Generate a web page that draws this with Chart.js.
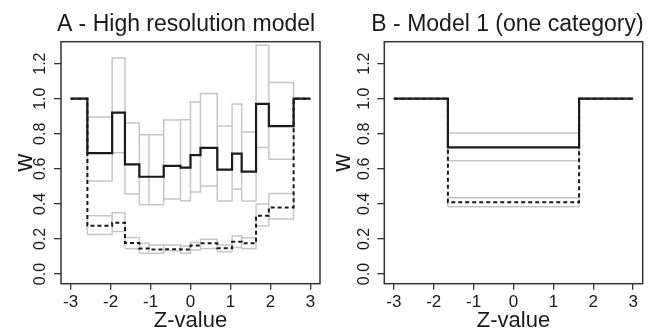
<!DOCTYPE html>
<html>
<head>
<meta charset="utf-8">
<script src="https://cdn.jsdelivr.net/npm/chart.js@4/dist/chart.umd.min.js"></script>
<style>
body { margin: 0; background: #fff; }
.panel { position: absolute; top: 0; height: 335px; }
</style>
</head>
<body>
<div class="panel" style="left:0;width:327px"><canvas id="chartA"></canvas></div>
<div class="panel" style="left:327px;width:328px"><canvas id="chartB"></canvas></div>
<script>
// Panel A - bin edges on the Z scale and weights per bin
const edgesA = [-3, -2.58, -1.96, -1.64, -1.28, -1.04, -0.67, -0.25, 0, 0.25, 0.67, 1.04, 1.28, 1.64, 1.96, 2.58, 3];
const solidA   = [1.0, 0.69, 0.92, 0.625, 0.555, 0.555, 0.617, 0.607, 0.678, 0.72, 0.596, 0.687, 0.584, 0.97, 0.843, 1.0];
const solidHiA = [null, 0.895, 1.232, 0.861, 0.795, 0.795, 0.878, 0.88, 0.981, 1.03, 0.844, 0.97, 0.81, 1.305, 1.093, null];
const solidLoA = [null, 0.53, 0.692, 0.456, 0.395, 0.395, 0.428, 0.418, 0.468, 0.502, 0.416, 0.483, 0.416, 0.722, 0.654, null];
const dashA    = [1.0, 0.275, 0.293, 0.177, 0.146, 0.14, 0.142, 0.14, 0.163, 0.175, 0.147, 0.184, 0.175, 0.333, 0.38, 1.0];
const dashHiA  = [null, 0.333, 0.35, 0.209, 0.175, 0.165, 0.165, 0.16, 0.18, 0.198, 0.165, 0.217, 0.207, 0.40, 0.46, null];
const dashLoA  = [null, 0.226, 0.243, 0.144, 0.118, 0.118, 0.133, 0.118, 0.137, 0.146, 0.127, 0.152, 0.144, 0.274, 0.314, null];

// Panel B - one category between the two cut points
const edgesB = [-3, -1.645, 1.645, 3];
const solidB   = [1.0, 0.722, 1.0];
const solidHiB = [null, 0.804, null];
const solidLoB = [null, 0.646, null];
const dashB    = [1.0, 0.409, 1.0];
const dashHiB  = [null, 0.435, null];
const dashLoB  = [null, 0.384, null];

const xTicks = [-3, -2, -1, 0, 1, 2, 3];
const yTicks = [0, 0.2, 0.4, 0.6, 0.8, 1.0, 1.2];

const FONT = '"Liberation Sans", Arial, sans-serif';

// step line: horizontal segment per bin, verticals join neighbours
function stepPoints(edges, vals) {
    const pts = [];
    for (let i = 0; i < vals.length; i++) {
        pts.push({ x: edges[i], y: vals[i] }, { x: edges[i + 1], y: vals[i] });
    }
    return pts;
}

// one closed rectangle per bin for the bounds, broken by null points
function boxPoints(edges, lo, hi) {
    const pts = [];
    for (let i = 0; i < lo.length; i++) {
        if (lo[i] === null) continue;
        const x0 = edges[i], x1 = edges[i + 1];
        pts.push({ x: x0, y: lo[i] }, { x: x0, y: hi[i] }, { x: x1, y: hi[i] },
                 { x: x1, y: lo[i] }, { x: x0, y: lo[i] }, { x: x1, y: null });
    }
    return pts;
}

const decorPlugin = {
    id: 'decor',
    afterDraw(chart, args, opts) {
        const ctx = chart.ctx;
        const area = chart.chartArea;
        const yScale = chart.scales.y;
        ctx.save();
        // frame
        ctx.strokeStyle = '#333';
        ctx.lineWidth = 1.5;
        ctx.strokeRect(area.left, area.top, area.right - area.left, area.bottom - area.top);

        ctx.fillStyle = '#1a1a1a';
        // title
        ctx.font = '23px ' + FONT;
        ctx.textAlign = 'center';
        ctx.textBaseline = 'alphabetic';
        ctx.fillText(opts.title, opts.titleX, 31);

        // x axis title
        ctx.font = '22px ' + FONT;
        ctx.fillText('Z-value', (area.left + area.right) / 2, 327);

        // rotated y tick labels
        ctx.font = '16px ' + FONT;
        ctx.textBaseline = 'middle';
        yScale.ticks.forEach(t => {
            const py = yScale.getPixelForValue(t.value);
            ctx.save();
            ctx.translate(area.left - 20, py);
            ctx.rotate(-Math.PI / 2);
            ctx.fillText(t.value.toFixed(1), 0, 0);
            ctx.restore();
        });

        // y axis title
        ctx.font = '25px ' + FONT;
        ctx.save();
        ctx.translate(area.left - opts.wOffset, (area.top + area.bottom) / 2);
        ctx.rotate(-Math.PI / 2);
        ctx.fillText('w', 0, 0);
        ctx.restore();
        ctx.restore();
    }
};

function makeChart(id, edges, solid, sHi, sLo, dash, dHi, dLo, cfg) {
    const ctx = document.getElementById(id).getContext('2d');
    return new Chart(ctx, {
        type: 'line',
        data: {
            datasets: [
                {
                    data: stepPoints(edges, solid),
                    borderColor: '#1a1a1a',
                    borderWidth: 2.2
                },
                {
                    data: stepPoints(edges, dash),
                    borderColor: '#1a1a1a',
                    borderWidth: 2,
                    borderDash: [4, 3]
                },
                {
                    data: boxPoints(edges, sLo, sHi),
                    borderColor: '#c6c6c6',
                    borderWidth: 1.5
                },
                {
                    data: boxPoints(edges, dLo, dHi),
                    borderColor: '#c6c6c6',
                    borderWidth: 1.5
                }
            ]
        },
        options: {
            responsive: true,
            maintainAspectRatio: false,
            animation: false,
            layout: { padding: { top: 41.7, right: cfg.right, left: 0, bottom: 0 } },
            elements: {
                point: { radius: 0, hoverRadius: 0 },
                line: { tension: 0, borderJoinStyle: 'miter', borderCapStyle: 'butt', fill: false }
            },
            plugins: {
                legend: { display: false },
                tooltip: { enabled: false },
                decor: { title: cfg.title, titleX: cfg.titleX, wOffset: cfg.wOffset }
            },
            scales: {
                x: {
                    type: 'linear',
                    min: -3.24,
                    max: 3.24,
                    afterBuildTicks: s => { s.ticks = xTicks.map(v => ({ value: v })); },
                    afterFit: s => { s.height = 51.3; },
                    ticks: {
                        font: { family: FONT, size: 17 },
                        color: '#1a1a1a',
                        padding: 2,
                        maxRotation: 0
                    },
                    grid: { drawOnChartArea: false, tickLength: 6, color: '#333', lineWidth: 1.3 },
                    border: { display: false }
                },
                y: {
                    min: -0.055,
                    max: 1.325,
                    afterBuildTicks: s => { s.ticks = yTicks.map(v => ({ value: v })); },
                    afterFit: s => { s.width = cfg.yWidth; },
                    ticks: { display: false },
                    grid: { drawOnChartArea: false, tickLength: 7, color: '#333', lineWidth: 1.3 },
                    border: { display: false }
                }
            }
        },
        plugins: [decorPlugin]
    });
}

makeChart('chartA', edgesA, solidA, solidHiA, solidLoA, dashA, dashHiA, dashLoA,
    { title: 'A - High resolution model', titleX: 186, wOffset: 36, yWidth: 61, right: 7 });
makeChart('chartB', edgesB, solidB, solidHiB, solidLoB, dashB, dashHiB, dashLoB,
    { title: 'B - Model 1 (one category)', titleX: 180.5, wOffset: 41, yWidth: 57.3, right: 12.3 });
</script>
</body>
</html>
